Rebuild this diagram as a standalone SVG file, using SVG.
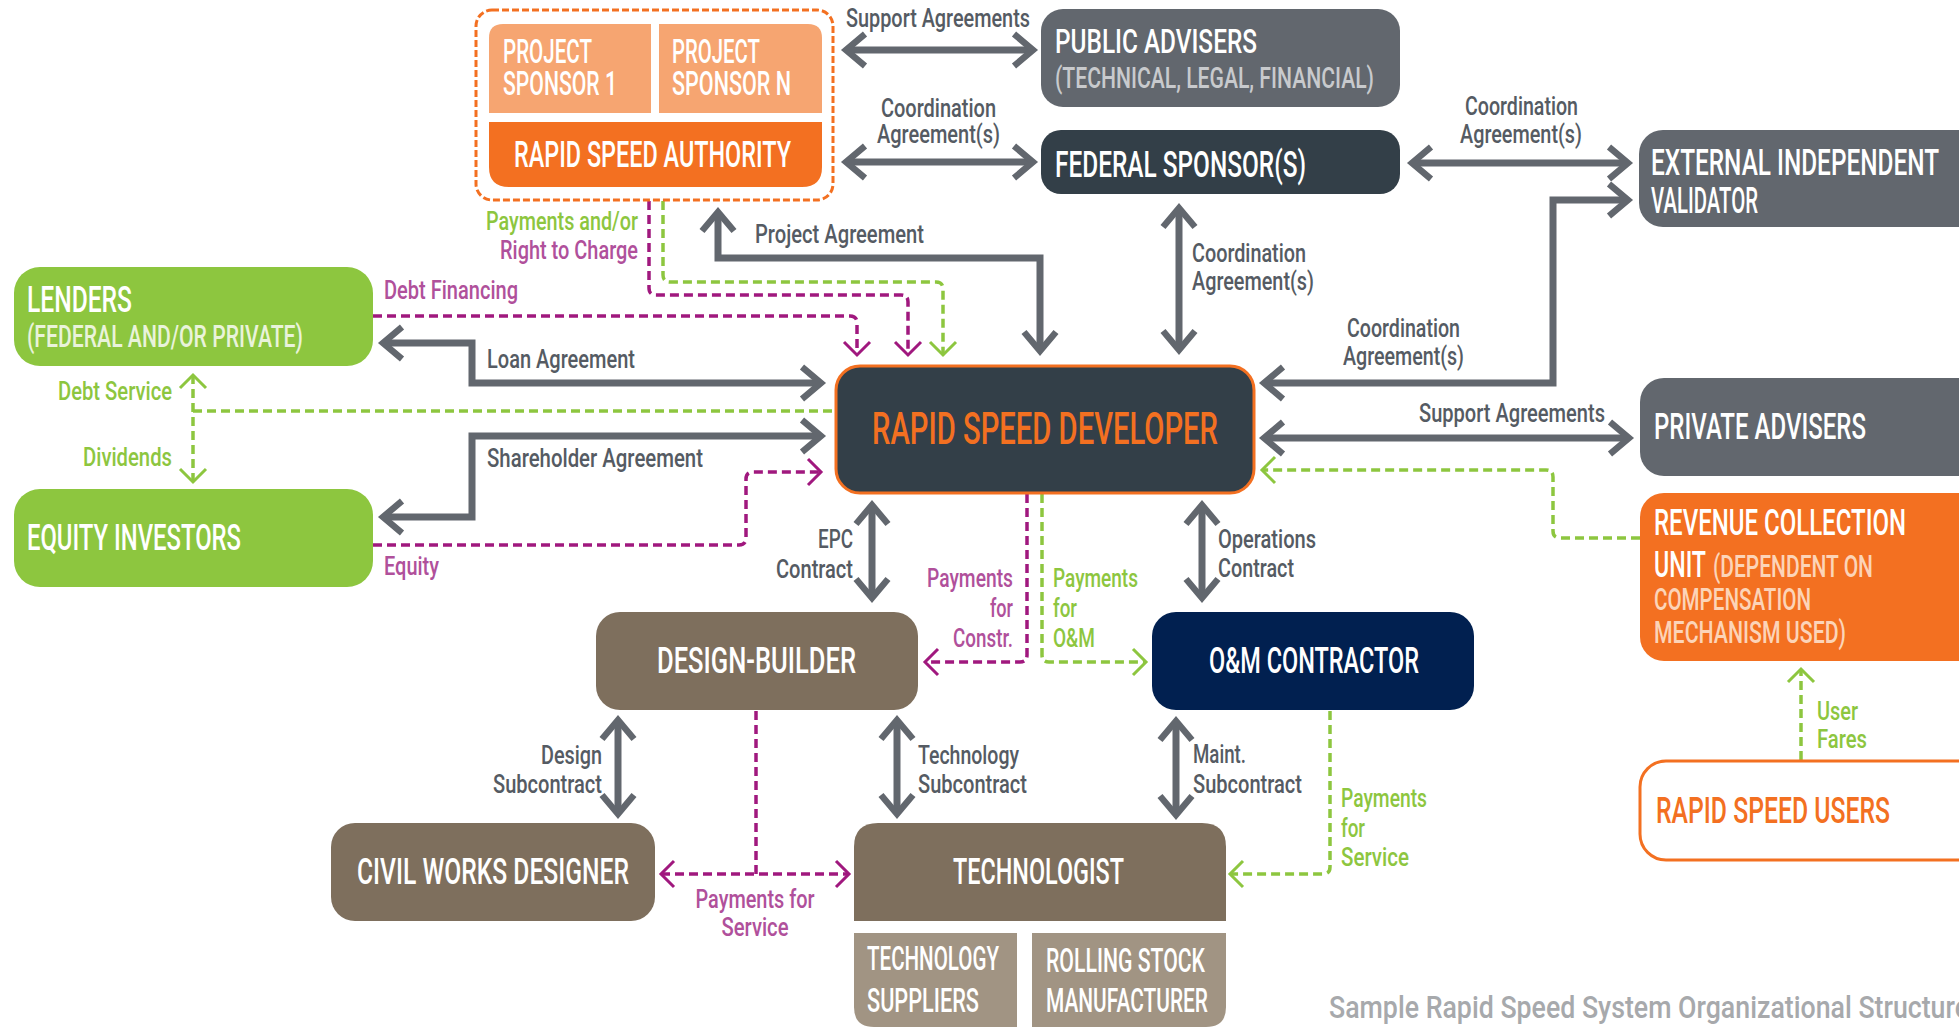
<svg xmlns="http://www.w3.org/2000/svg" width="1959" height="1027" viewBox="0 0 1959 1027">
<defs>
<style>
text{font-family:Roboto,'Liberation Sans',Arial,sans-serif}
.t{font-size:36px;fill:#fff;font-weight:500}
.ts{font-size:32px;font-weight:500}
.l{font-size:26px;fill:#555B63;font-weight:500}
.lm{font-size:26px;fill:#B0509B;font-weight:500}
.lg{font-size:26px;fill:#8DC63F;font-weight:500}
.g{fill:none;stroke:#62676E;stroke-width:7;marker-start:url(#ga);marker-end:url(#ga)}
.m{fill:none;stroke:#A0187E;stroke-width:3.5;stroke-dasharray:9 5}
.n{fill:none;stroke:#8DC63F;stroke-width:3.5;stroke-dasharray:9 5}
.me{marker-end:url(#ma)}
.ms{marker-start:url(#ma)}
.ne{marker-end:url(#na)}
.ns{marker-start:url(#na)}
</style>
<marker id="ga" markerUnits="userSpaceOnUse" viewBox="-26 -20 34 40" markerWidth="34" markerHeight="40" refX="0" refY="0" orient="auto-start-reverse" style="overflow:visible">
<path d="M-19,-16 L0,0 L-19,16" fill="none" stroke="#62676E" stroke-width="6.5"/>
</marker>
<marker id="ma" markerUnits="userSpaceOnUse" viewBox="-18 -16 22 32" markerWidth="22" markerHeight="32" refX="0" refY="0" orient="auto-start-reverse" style="overflow:visible">
<path d="M-13,-13 L0,0 L-13,13" fill="none" stroke="#A0187E" stroke-width="3"/>
</marker>
<marker id="na" markerUnits="userSpaceOnUse" viewBox="-18 -16 22 32" markerWidth="22" markerHeight="32" refX="0" refY="0" orient="auto-start-reverse" style="overflow:visible">
<path d="M-13,-13 L0,0 L-13,13" fill="none" stroke="#8DC63F" stroke-width="3"/>
</marker>
</defs>
<rect width="1959" height="1027" fill="#fff"/>

<g id="connectors">
<path class="g" d="M846,50 H1033"/>
<path class="g" d="M846,162 H1033"/>
<path class="g" d="M1412,163 H1628"/>
<path class="g" d="M1179,208 V350"/>
<path class="g" d="M718,212 V258 H1040 V351"/>
<path class="g" d="M1264,383 H1553 V200 H1628"/>
<path class="g" d="M383,343 H472 V383 H821"/>
<path class="g" d="M383,517 H472 V436 H821"/>
<path class="g" d="M1264,438 H1629"/>
<path class="g" d="M872,505 V598"/>
<path class="g" d="M1202,505 V598"/>
<path class="g" d="M618,720 V814"/>
<path class="g" d="M897,720 V814"/>
<path class="g" d="M1176,721 V815"/>

<path class="m me" d="M649,201 V288 Q649,295 656,295 H901 Q908,295 908,302 V355"/>
<path class="m me" d="M373,316 H850 Q857,316 857,323 V355"/>
<path class="m me" d="M373,545 H739 Q746,545 746,538 V479 Q746,472 753,472 H821"/>
<path class="m me" d="M1027,494 V655 Q1027,662 1020,662 H925"/>
<path class="m" d="M756,711 V874"/>
<path class="m ms me" d="M661,874 H849"/>

<path class="n ne" d="M663,201 V275 Q663,282 670,282 H936 Q943,282 943,289 V355"/>
<path class="n ns ne" d="M193,375 V482"/>
<path class="n" d="M193,411 H835"/>
<path class="n ne" d="M1042,494 V655 Q1042,662 1049,662 H1146"/>
<path class="n ne" d="M1640,538 H1560 Q1553,538 1553,531 V477 Q1553,470 1546,470 H1262"/>
<path class="n ne" d="M1330,711 V867 Q1330,874 1323,874 H1230"/>
<path class="n ne" d="M1801,760 V669"/>
</g>

<g id="labels">
<text class="l" x="846" y="27" textLength="184" lengthAdjust="spacingAndGlyphs">Support Agreements</text>
<text class="l" x="881" y="117" textLength="115" lengthAdjust="spacingAndGlyphs">Coordination</text>
<text class="l" x="877" y="143" textLength="123" lengthAdjust="spacingAndGlyphs">Agreement(s)</text>
<text class="l" x="1465" y="115" textLength="113" lengthAdjust="spacingAndGlyphs">Coordination</text>
<text class="l" x="1460" y="143" textLength="122" lengthAdjust="spacingAndGlyphs">Agreement(s)</text>
<text class="l" x="755" y="243" textLength="169" lengthAdjust="spacingAndGlyphs">Project Agreement</text>
<text class="l" x="1192" y="262" textLength="114" lengthAdjust="spacingAndGlyphs">Coordination</text>
<text class="l" x="1192" y="290" textLength="122" lengthAdjust="spacingAndGlyphs">Agreement(s)</text>
<text class="l" x="1347" y="337" textLength="113" lengthAdjust="spacingAndGlyphs">Coordination</text>
<text class="l" x="1343" y="365" textLength="121" lengthAdjust="spacingAndGlyphs">Agreement(s)</text>
<text class="lg" x="486" y="230" textLength="152" lengthAdjust="spacingAndGlyphs">Payments and/or</text>
<text class="lm" x="500" y="259" textLength="138" lengthAdjust="spacingAndGlyphs">Right to Charge</text>
<text class="lm" x="384" y="299" textLength="134" lengthAdjust="spacingAndGlyphs">Debt Financing</text>
<text class="l" x="487" y="368" textLength="148" lengthAdjust="spacingAndGlyphs">Loan Agreement</text>
<text class="lg" x="58" y="400" textLength="114" lengthAdjust="spacingAndGlyphs">Debt Service</text>
<text class="lg" x="83" y="466" textLength="89" lengthAdjust="spacingAndGlyphs">Dividends</text>
<text class="l" x="487" y="467" textLength="216" lengthAdjust="spacingAndGlyphs">Shareholder Agreement</text>
<text class="lm" x="384" y="575" textLength="55" lengthAdjust="spacingAndGlyphs">Equity</text>
<text class="l" x="1419" y="422" textLength="186" lengthAdjust="spacingAndGlyphs">Support Agreements</text>
<text class="l" x="853" y="548" text-anchor="end" textLength="35" lengthAdjust="spacingAndGlyphs">EPC</text>
<text class="l" x="853" y="578" text-anchor="end" textLength="77" lengthAdjust="spacingAndGlyphs">Contract</text>
<text class="l" x="1218" y="548" textLength="98" lengthAdjust="spacingAndGlyphs">Operations</text>
<text class="l" x="1218" y="577" textLength="76" lengthAdjust="spacingAndGlyphs">Contract</text>
<text class="lm" x="1013" y="587" text-anchor="end" textLength="86" lengthAdjust="spacingAndGlyphs">Payments</text>
<text class="lm" x="1013" y="617" text-anchor="end" textLength="23" lengthAdjust="spacingAndGlyphs">for</text>
<text class="lm" x="1013" y="647" text-anchor="end" textLength="60" lengthAdjust="spacingAndGlyphs">Constr.</text>
<text class="lg" x="1053" y="587" textLength="85" lengthAdjust="spacingAndGlyphs">Payments</text>
<text class="lg" x="1053" y="617" textLength="24" lengthAdjust="spacingAndGlyphs">for</text>
<text class="lg" x="1053" y="647" textLength="42" lengthAdjust="spacingAndGlyphs">O&amp;M</text>
<text class="l" x="602" y="764" text-anchor="end" textLength="61" lengthAdjust="spacingAndGlyphs">Design</text>
<text class="l" x="602" y="793" text-anchor="end" textLength="109" lengthAdjust="spacingAndGlyphs">Subcontract</text>
<text class="l" x="918" y="764" textLength="101" lengthAdjust="spacingAndGlyphs">Technology</text>
<text class="l" x="918" y="793" textLength="109" lengthAdjust="spacingAndGlyphs">Subcontract</text>
<text class="l" x="1193" y="763" textLength="53" lengthAdjust="spacingAndGlyphs">Maint.</text>
<text class="l" x="1193" y="793" textLength="109" lengthAdjust="spacingAndGlyphs">Subcontract</text>
<text class="lm" x="755" y="908" text-anchor="middle" textLength="119" lengthAdjust="spacingAndGlyphs">Payments for</text>
<text class="lm" x="755" y="936" text-anchor="middle" textLength="67" lengthAdjust="spacingAndGlyphs">Service</text>
<text class="lg" x="1341" y="807" textLength="86" lengthAdjust="spacingAndGlyphs">Payments</text>
<text class="lg" x="1341" y="837" textLength="24" lengthAdjust="spacingAndGlyphs">for</text>
<text class="lg" x="1341" y="866" textLength="68" lengthAdjust="spacingAndGlyphs">Service</text>
<text class="lg" x="1817" y="720" textLength="41" lengthAdjust="spacingAndGlyphs">User</text>
<text class="lg" x="1817" y="748" textLength="50" lengthAdjust="spacingAndGlyphs">Fares</text>
</g>

<g id="authority-group">
<rect x="476" y="10" width="357" height="190" rx="16" fill="none" stroke="#F37021" stroke-width="3" stroke-dasharray="7 3"/>
</g>
<g id="project-sponsor-1">
<path d="M489,113 V38 Q489,24 503,24 H651 V113 Z" fill="#F6A571"/>
<text class="t" x="503" y="63" font-size="33" style="font-size:33px" textLength="89" lengthAdjust="spacingAndGlyphs">PROJECT</text>
<text class="t" x="503" y="95" style="font-size:33px" textLength="114" lengthAdjust="spacingAndGlyphs">SPONSOR 1</text>
</g>
<g id="project-sponsor-n">
<path d="M659,113 V24 H808 Q822,24 822,38 V113 Z" fill="#F6A571"/>
<text class="t" x="672" y="63" style="font-size:33px" textLength="88" lengthAdjust="spacingAndGlyphs">PROJECT</text>
<text class="t" x="672" y="95" style="font-size:33px" textLength="119" lengthAdjust="spacingAndGlyphs">SPONSOR N</text>
</g>
<g id="rapid-speed-authority">
<path d="M489,122 H822 V167 Q822,187 802,187 H509 Q489,187 489,167 Z" fill="#F37021"/>
<text class="t" x="514" y="167" textLength="277" lengthAdjust="spacingAndGlyphs">RAPID SPEED AUTHORITY</text>
</g>
<g id="public-advisers">
<rect x="1041" y="9" width="359" height="98" rx="22" fill="#62676E"/>
<text class="t" x="1055" y="53" style="font-size:33px" textLength="202" lengthAdjust="spacingAndGlyphs">PUBLIC ADVISERS</text>
<text class="ts" x="1055" y="88" fill="#C8CACD" style="font-size:30px" textLength="319" lengthAdjust="spacingAndGlyphs">(TECHNICAL, LEGAL, FINANCIAL)</text>
</g>
<g id="federal-sponsors">
<rect x="1041" y="130" width="359" height="64" rx="20" fill="#333F48"/>
<text class="t" x="1055" y="177" textLength="251" lengthAdjust="spacingAndGlyphs">FEDERAL SPONSOR(S)</text>
</g>
<g id="external-validator">
<rect x="1639" y="130" width="360" height="97" rx="24" fill="#62676E"/>
<text class="t" x="1651" y="175" textLength="288" lengthAdjust="spacingAndGlyphs">EXTERNAL INDEPENDENT</text>
<text class="t" x="1651" y="213" textLength="107" lengthAdjust="spacingAndGlyphs">VALIDATOR</text>
</g>
<g id="lenders">
<rect x="14" y="267" width="359" height="99" rx="26" fill="#8DC63F"/>
<text class="t" x="27" y="312" textLength="105" lengthAdjust="spacingAndGlyphs">LENDERS</text>
<text class="ts" x="27" y="347" fill="#E9F3DA" textLength="276" lengthAdjust="spacingAndGlyphs">(FEDERAL AND/OR PRIVATE)</text>
</g>
<g id="equity-investors">
<rect x="14" y="489" width="359" height="98" rx="26" fill="#8DC63F"/>
<text class="t" x="27" y="550" textLength="214" lengthAdjust="spacingAndGlyphs">EQUITY INVESTORS</text>
</g>
<g id="rapid-speed-developer">
<rect x="836" y="366" width="418" height="127" rx="24" fill="#333F48" stroke="#F37021" stroke-width="3"/>
<text class="t" x="872" y="444" style="font-size:44px;fill:#F37021" textLength="346" lengthAdjust="spacingAndGlyphs">RAPID SPEED DEVELOPER</text>
</g>
<g id="private-advisers">
<rect x="1640" y="378" width="360" height="98" rx="24" fill="#62676E"/>
<text class="t" x="1654" y="439" textLength="212" lengthAdjust="spacingAndGlyphs">PRIVATE ADVISERS</text>
</g>
<g id="revenue-collection-unit">
<rect x="1640" y="493" width="360" height="168" rx="24" fill="#F37021"/>
<text class="t" x="1654" y="535" textLength="252" lengthAdjust="spacingAndGlyphs">REVENUE COLLECTION</text>
<text class="t" x="1654" y="577" textLength="52" lengthAdjust="spacingAndGlyphs">UNIT</text>
<text class="ts" x="1713" y="577" fill="#FCD4B8" textLength="160" lengthAdjust="spacingAndGlyphs">(DEPENDENT ON</text>
<text class="ts" x="1654" y="610" fill="#FCD4B8" textLength="157" lengthAdjust="spacingAndGlyphs">COMPENSATION</text>
<text class="ts" x="1654" y="643" fill="#FCD4B8" textLength="192" lengthAdjust="spacingAndGlyphs">MECHANISM USED)</text>
</g>
<g id="rapid-speed-users">
<rect x="1640" y="761" width="360" height="99" rx="26" fill="#fff" stroke="#F37021" stroke-width="3"/>
<text class="t" x="1656" y="823" style="fill:#F37021" textLength="234" lengthAdjust="spacingAndGlyphs">RAPID SPEED USERS</text>
</g>
<g id="design-builder">
<rect x="596" y="612" width="322" height="98" rx="24" fill="#7E6F5D"/>
<text class="t" x="657" y="673" textLength="199" lengthAdjust="spacingAndGlyphs">DESIGN-BUILDER</text>
</g>
<g id="om-contractor">
<rect x="1152" y="612" width="322" height="98" rx="24" fill="#012050"/>
<text class="t" x="1209" y="673" textLength="210" lengthAdjust="spacingAndGlyphs">O&amp;M CONTRACTOR</text>
</g>
<g id="civil-works-designer">
<rect x="331" y="823" width="324" height="98" rx="24" fill="#7E6F5D"/>
<text class="t" x="357" y="884" textLength="272" lengthAdjust="spacingAndGlyphs">CIVIL WORKS DESIGNER</text>
</g>
<g id="technologist">
<path d="M854,921 V847 Q854,823 878,823 H1202 Q1226,823 1226,847 V921 Z" fill="#7E6F5D"/>
<text class="t" x="953" y="884" textLength="171" lengthAdjust="spacingAndGlyphs">TECHNOLOGIST</text>
</g>
<g id="technology-suppliers">
<path d="M854,933 H1017 V1027 H874 Q854,1027 854,1007 Z" fill="#A19483"/>
<text class="t" x="867" y="970" style="font-size:33px" textLength="132" lengthAdjust="spacingAndGlyphs">TECHNOLOGY</text>
<text class="t" x="867" y="1012" style="font-size:33px" textLength="112" lengthAdjust="spacingAndGlyphs">SUPPLIERS</text>
</g>
<g id="rolling-stock-manufacturer">
<path d="M1032,933 H1226 V1007 Q1226,1027 1206,1027 H1032 Z" fill="#A19483"/>
<text class="t" x="1046" y="972" style="font-size:33px" textLength="159" lengthAdjust="spacingAndGlyphs">ROLLING STOCK</text>
<text class="t" x="1046" y="1012" style="font-size:33px" textLength="162" lengthAdjust="spacingAndGlyphs">MANUFACTURER</text>
</g>
<text x="1329" y="1018" font-size="32" font-weight="500" fill="#A7A9AC" textLength="640" lengthAdjust="spacingAndGlyphs">Sample Rapid Speed System Organizational Structure</text>
</svg>
